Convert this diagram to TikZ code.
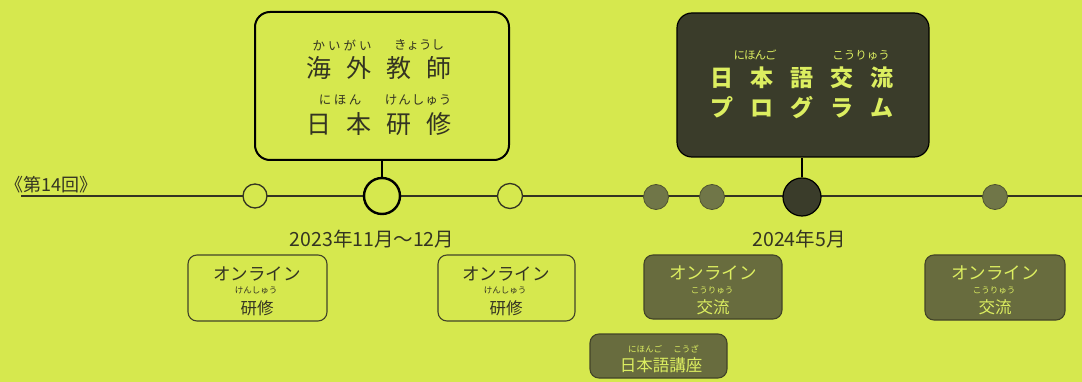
\documentclass[tikz,border=0pt]{standalone}
\usepackage{fontspec}
\newfontfamily\jp{Noto Sans CJK JP}
\definecolor{bg}{RGB}{214,232,78}
\definecolor{darkbox}{RGB}{58,60,42}
\definecolor{midbox}{RGB}{104,108,62}
\definecolor{midedge}{RGB}{66,68,40}
\definecolor{dotfill}{RGB}{112,118,72}
\definecolor{dotedge}{RGB}{78,82,48}
\definecolor{lighttext}{RGB}{220,238,96}
\definecolor{inktext}{RGB}{52,52,34}
\def\pgap{10pt}
\newcommand\pitch[2]{\def\pgap{#1}\ploop#2\relax}
\def\ploop#1{\ifx#1\relax\else\makebox[\pgap]{#1}\expandafter\ploop\fi}
\tikzset{
  txt/.style={inner sep=0pt, font=\jp, text=inktext},
  bigopen/.style={draw=black, line width=2pt, rounded corners=15pt, fill=bg},
  bigdark/.style={draw=black, line width=1.2pt, rounded corners=15pt, fill=darkbox},
  smallopen/.style={draw=midedge, line width=1.1pt, rounded corners=9pt, fill=bg},
  smalldark/.style={draw=midedge, line width=1.1pt, rounded corners=9pt, fill=midbox},
  opendot/.style={circle, draw=inktext, line width=1.3pt, fill=bg, inner sep=0pt},
  bigopendot/.style={circle, draw=black, line width=2.4pt, fill=bg, inner sep=0pt},
  filldot/.style={circle, draw=dotedge, line width=0.8pt, fill=dotfill, inner sep=0pt},
  bigfilldot/.style={circle, draw=black, line width=1.2pt, fill=darkbox, inner sep=0pt},
  tl/.style={draw=inktext, line width=1.5pt},
  conn/.style={draw=black, line width=2pt},
}
\begin{document}
\begin{tikzpicture}[x=1pt,y=-1pt]
\fill[bg] (0,0) rectangle (1082,382);
\useasboundingbox (0,0) rectangle (1082,382);

% timeline
\coordinate (tlstart) at (21,196);
\coordinate (tlend) at (1082,196);
\draw[tl] (tlstart) -- (tlend);
\node[txt, anchor=west, font=\jp\fontsize{18}{18}\selectfont] (kai) at (5,185) {《第14回》};

% big boxes
\node[bigopen, minimum width=254pt, minimum height=148pt] (kaigai) at (382,86) {};
\node[bigdark, minimum width=252pt, minimum height=144pt] (prog) at (803,85) {};

% circles
\node[opendot, minimum size=24pt] (c1) at (255,196) {};
\node[bigopendot, minimum size=36pt] (c2) at (382,196) {};
\node[opendot, minimum size=25pt] (c3) at (510,196) {};
\node[filldot, minimum size=25pt] (c4) at (656,197) {};
\node[filldot, minimum size=25pt] (c5) at (712,197) {};
\node[bigfilldot, minimum size=38pt] (c6) at (802,197) {};
\node[filldot, minimum size=25pt] (c7) at (995,197) {};

\draw[conn] (c2.north) -- (c2.north |- kaigai.south);
\draw[conn] (c6.north) -- (c6.north |- prog.south);

% box 1 text
\node[txt, font=\jp\fontsize{12.5}{12.5}\selectfont] (r1a) at (342,45) {\pitch{15.5pt}{かいがい}};
\node[txt, font=\jp\fontsize{12.5}{12.5}\selectfont] (r1b) at (419,45) {\pitch{12.5pt}{きょうし}};
\node[txt, font=\jp\fontsize{25}{25}\selectfont] (l1a) at (379,68) {\pitch{40pt}{海外教師}};
\node[txt, font=\jp\fontsize{12.5}{12.5}\selectfont] (r1c) at (340,100) {\pitch{15pt}{にほん}};
\node[txt, font=\jp\fontsize{12.5}{12.5}\selectfont] (r1d) at (418,100) {\pitch{13.5pt}{けんしゅう}};
\node[txt, font=\jp\fontsize{25}{25}\selectfont] (l1b) at (379,124) {\pitch{40pt}{日本研修}};

% dark box text
\node[txt, text=lighttext, font=\jp\fontsize{11.5}{11.5}\selectfont] (r2a) at (755,55) {\pitch{10.5pt}{にほんご}};
\node[txt, text=lighttext, font=\jp\fontsize{11.5}{11.5}\selectfont] (r2b) at (861,55) {\pitch{11.5pt}{こうりゅう}};
\node[txt, text=lighttext, font=\jp\bfseries\fontsize{23}{23}\selectfont] (l2a) at (802,78) {\pitch{40pt}{日本語交流}};
\node[txt, text=lighttext, font=\jp\bfseries\fontsize{23}{23}\selectfont] (l2b) at (802,108) {\pitch{40pt}{プログラム}};

% dates
\node[txt, font=\jp\fontsize{19.5}{19.5}\selectfont] (d1) at (372,239) {2023年11月〜12月};
\node[txt, font=\jp\fontsize{19.5}{19.5}\selectfont] (d2) at (799,239) {2024年5月};

% lower boxes
\node[smallopen, minimum width=139pt, minimum height=66pt] (b1) at (257.5,288) {};
\node[smallopen, minimum width=137pt, minimum height=66pt] (b2) at (506.5,288) {};
\node[smalldark, minimum width=138pt, minimum height=64pt] (b3) at (713,287) {};
\node[smalldark, minimum width=140pt, minimum height=65pt] (b4) at (995,287.5) {};
\node[smalldark, minimum width=137pt, minimum height=44pt] (b5) at (658.5,356) {};

\node[txt, font=\jp\fontsize{17.5}{17.5}\selectfont] (b1t) at (257,274) {オンライン};
\node[txt, font=\jp\fontsize{8.5}{8.5}\selectfont] (b1r) at (256,291) {けんしゅう};
\node[txt, font=\jp\fontsize{16.5}{16.5}\selectfont] (b1k) at (257,308) {研修};

\node[txt, font=\jp\fontsize{17.5}{17.5}\selectfont] (b2t) at (506,274) {オンライン};
\node[txt, font=\jp\fontsize{8.5}{8.5}\selectfont] (b2r) at (505,291) {けんしゅう};
\node[txt, font=\jp\fontsize{16.5}{16.5}\selectfont] (b2k) at (506,308) {研修};

\node[txt, text=lighttext, font=\jp\fontsize{17.5}{17.5}\selectfont] (b3t) at (713,273) {オンライン};
\node[txt, text=lighttext, font=\jp\fontsize{8.5}{8.5}\selectfont] (b3r) at (712,290) {こうりゅう};
\node[txt, text=lighttext, font=\jp\fontsize{16.5}{16.5}\selectfont] (b3k) at (713,307) {交流};

\node[txt, text=lighttext, font=\jp\fontsize{17.5}{17.5}\selectfont] (b4t) at (995,273) {オンライン};
\node[txt, text=lighttext, font=\jp\fontsize{8.5}{8.5}\selectfont] (b4r) at (994,290) {こうりゅう};
\node[txt, text=lighttext, font=\jp\fontsize{16.5}{16.5}\selectfont] (b4k) at (995,307) {交流};

\node[txt, text=lighttext, font=\jp\fontsize{8.5}{8.5}\selectfont] (b5r1) at (645,349) {にほんご};
\node[txt, text=lighttext, font=\jp\fontsize{8.5}{8.5}\selectfont] (b5r2) at (686,349) {こうざ};
\node[txt, text=lighttext, font=\jp\fontsize{16.5}{16.5}\selectfont] (b5k) at (661,365) {日本語講座};
\end{tikzpicture}
\end{document}
